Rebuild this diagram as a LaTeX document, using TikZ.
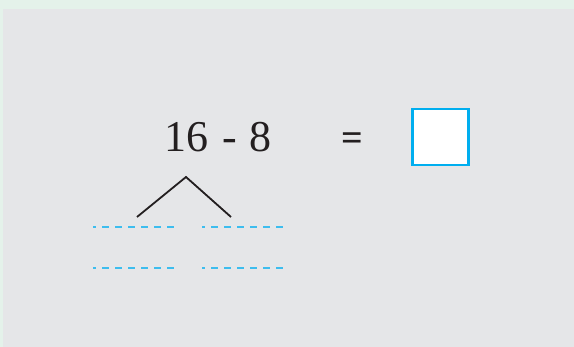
\documentclass[tikz,border=0pt]{standalone}
\usepackage{fontspec}
\setmainfont{Liberation Serif}
\begin{document}
\begin{tikzpicture}[x=1pt,y=-1pt,
  stroke/.style={draw=ink,line width=1.8pt},
  dashline/.style={draw=dashblue,line width=1.6pt,dash pattern=on 7pt off 6pt,dash phase=4pt},
  ansbox/.style={draw=boxblue,line width=2.6pt,fill=white,minimum width=56pt,minimum height=56pt,inner sep=0pt}]
\definecolor{bggreen}{HTML}{E4F2EA}
\definecolor{bggray}{HTML}{E5E6E8}
\definecolor{ink}{HTML}{231F20}
\definecolor{dashblue}{HTML}{3DBDEE}
\definecolor{boxblue}{HTML}{00AEEF}
\useasboundingbox (0,0) rectangle (574,347);
\fill[bggreen] (0,0) rectangle (574,347);
\fill[bggray] (3,9) rectangle (574,347);
\node[anchor=base,font=\fontsize{44}{48}\selectfont,text=ink,inner sep=0pt] (expr) at (218,152) {16\hspace{3pt} - \hspace{2pt}8};
\node[font=\fontsize{38}{40}\selectfont\bfseries,text=ink,inner sep=0pt] (eq) at (352.5,142) {=};
\node[ansbox] (ans) at (440.5,137) {};
\coordinate (apex) at (186,177);
\coordinate (lend) at (137,217);
\coordinate (rend) at (231,217);
\draw[stroke] (lend) -- (apex) -- (rend);
\coordinate (a1) at (93,227); \coordinate (b1) at (175,227);
\coordinate (c1) at (202,227); \coordinate (d1) at (284,227);
\coordinate (a2) at (93,268); \coordinate (b2) at (175,268);
\coordinate (c2) at (202,268); \coordinate (d2) at (284,268);
\draw[dashline] (a1) -- (b1);
\draw[dashline] (c1) -- (d1);
\draw[dashline] (a2) -- (b2);
\draw[dashline] (c2) -- (d2);
\end{tikzpicture}
\end{document}
